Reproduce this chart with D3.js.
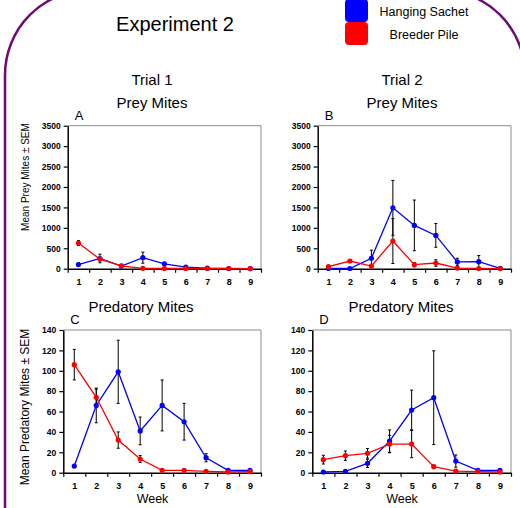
<!DOCTYPE html>
<html>
<head>
<meta charset="utf-8">
<script src="https://cdn.jsdelivr.net/npm/d3@7/dist/d3.min.js"></script>
<style>
  html, body { margin: 0; padding: 0; background: #fff; }
  svg { display: block; font-family: "Liberation Sans", Arial, sans-serif; }
</style>
</head>
<body>
<svg id="chart" width="520" height="508"></svg>
<script>
// Weeks (x categories)
const weeks = [1, 2, 3, 4, 5, 6, 7, 8, 9];

// Trial 1 - prey mites
const preyT1Sachet    = [100, 250, 65, 270, 120, 40, 16, 5, 3];
const preyT1SachetErr = [40, 105, 15, 135, 30, 10, 5, 2, 2];
const preyT1Pile      = [628, 235, 70, 8, 5, 5, 5, 4, 3];
const preyT1PileErr   = [60, 40, 15, 4, 3, 3, 3, 2, 2];

// Trial 2 - prey mites
const preyT2Sachet    = [5, 5, 255, 1490, 1060, 815, 165, 172, 10];
const preyT2SachetErr = [3, 3, 200, 670, 620, 290, 90, 150, 5];
const preyT2Pile      = [49, 188, 65, 677, 98, 139, 16, 5, 3];
const preyT2PileErr   = [30, 20, 15, 550, 50, 80, 10, 3, 2];

// Trial 1 - predatory mites
const predT1Sachet    = [6.5, 66, 99, 41, 66, 50, 14.7, 2.3, 2.3];
const predT1SachetErr = [1, 17, 31, 13.6, 25, 18, 4, 0.5, 0.5];
const predT1Pile      = [106, 74, 32, 13.4, 2.3, 2.3, 1.3, 0.7, 1];
const predT1PileErr   = [15, 8, 8, 3.5, 0.8, 0.8, 0.5, 0.3, 0.3];

// Trial 2 - predatory mites
const predT2Sachet    = [0.7, 1.3, 9.2, 31, 61.5, 73.6, 11.4, 2.3, 2.3];
const predT2SachetErr = [0.3, 0.5, 4, 11, 19.5, 46, 6, 0.5, 0.5];
const predT2Pile      = [12.8, 16.7, 19, 28.1, 28.1, 5.9, 1.6, 1, 0.7];
const predT2PileErr   = [4.3, 4.6, 4.7, 8.5, 13.4, 1.5, 0.5, 0.3, 0.3];

const preyTicks = [0, 500, 1000, 1500, 2000, 2500, 3000, 3500];
const predTicks = [0, 20, 40, 60, 80, 100, 120, 140];

const seriesNames = ['Hanging Sachet', 'Breeder Pile'];
const seriesColors = ['#0000ff', '#ff0000'];

const svg = d3.select('#chart');
const FONT = '"Liberation Sans", Arial, sans-serif';

// Purple rounded frame
svg.append('rect')
  .attr('x', 5).attr('y', -10)
  .attr('width', 520).attr('height', 600)
  .attr('rx', 85).attr('ry', 85)
  .attr('fill', 'none')
  .attr('stroke', '#6e0b74')
  .attr('stroke-width', 2.5);

// Title
svg.append('text')
  .attr('x', 175).attr('y', 31)
  .attr('text-anchor', 'middle')
  .attr('font-size', 20)
  .text('Experiment 2');

// Legend
seriesNames.forEach((name, i) => {
  svg.append('rect')
    .attr('x', 345).attr('y', i * 23 - 1)
    .attr('width', 23).attr('height', 23)
    .attr('rx', 4)
    .attr('fill', seriesColors[i]);
  svg.append('text')
    .attr('x', 424).attr('y', 16 + i * 22.5)
    .attr('text-anchor', 'middle')
    .attr('font-size', 12.5)
    .text(name);
});

// Column headings
[['Trial 1', 152], ['Trial 2', 402]].forEach(([t, x]) => {
  svg.append('text').attr('x', x).attr('y', 85)
    .attr('text-anchor', 'middle').attr('font-size', 15).text(t);
  svg.append('text').attr('x', x).attr('y', 108)
    .attr('text-anchor', 'middle').attr('font-size', 15).text('Prey Mites');
});
[141, 401].forEach(x => {
  svg.append('text').attr('x', x).attr('y', 312)
    .attr('text-anchor', 'middle').attr('font-size', 15).text('Predatory Mites');
});

// Y axis titles
svg.append('text')
  .attr('transform', 'translate(29,177) rotate(-90)')
  .attr('text-anchor', 'middle')
  .attr('font-size', 10)
  .text('Mean Prey Mites ± SEM');
svg.append('text')
  .attr('transform', 'translate(29,407) rotate(-90)')
  .attr('text-anchor', 'middle')
  .attr('font-size', 12)
  .text('Mean Predatory Mites ± SEM');

// Week labels
[152.5, 402].forEach(x => {
  svg.append('text').attr('x', x).attr('y', 503)
    .attr('text-anchor', 'middle').attr('font-size', 12.5).text('Week');
});

const panels = [
  { letter: 'A', x0: 67.7, x1: 261, y0: 125.7, y1: 268.7, max: 3500, ticks: preyTicks,
    series: [[preyT1Sachet, preyT1SachetErr], [preyT1Pile, preyT1PileErr]] },
  { letter: 'B', x0: 317.7, x1: 511, y0: 125.7, y1: 268.7, max: 3500, ticks: preyTicks,
    series: [[preyT2Sachet, preyT2SachetErr], [preyT2Pile, preyT2PileErr]] },
  { letter: 'C', x0: 63.3, x1: 261, y0: 330, y1: 472.7, max: 140, ticks: predTicks,
    series: [[predT1Sachet, predT1SachetErr], [predT1Pile, predT1PileErr]] },
  { letter: 'D', x0: 312.3, x1: 511, y0: 330, y1: 472.7, max: 140, ticks: predTicks,
    series: [[predT2Sachet, predT2SachetErr], [predT2Pile, predT2PileErr]] }
];

panels.forEach(p => {
  const x = d3.scaleLinear().domain([0.5, 9.5]).range([p.x0, p.x1]);
  const y = d3.scaleLinear().domain([0, p.max]).range([p.y1, p.y0]);
  const g = svg.append('g');

  // Plot box (gray top/right)
  g.append('path')
    .attr('d', `M${p.x0},${p.y0}H${p.x1}V${p.y1}`)
    .attr('fill', 'none').attr('stroke', '#8c8c8c').attr('stroke-width', 1);

  // Panel letter
  g.append('text')
    .attr('x', p.x0 + 7)
    .attr('y', p.y0 - 6)
    .attr('font-size', 13)
    .text(p.letter);

  // Y axis
  const yAxis = g.append('g')
    .attr('transform', `translate(${p.x0},0)`)
    .call(d3.axisLeft(y).tickValues(p.ticks).tickSize(4).tickPadding(3)
      .tickSizeOuter(0).tickFormat(d3.format('d')));
  yAxis.selectAll('text').attr('font-size', 8.5).attr('font-weight', 'bold').attr('font-family', FONT);

  // X axis: ticks at category boundaries
  const xAxis = g.append('g')
    .attr('transform', `translate(0,${p.y1})`)
    .call(d3.axisBottom(x).tickValues(d3.range(0.5, 10, 1)).tickSize(4).tickFormat('').tickSizeOuter(0));
  // X labels at categories
  const xLab = g.append('g')
    .attr('transform', `translate(0,${p.y1})`)
    .call(d3.axisBottom(x).tickValues(weeks).tickSize(0).tickPadding(10).tickFormat(d3.format('d')));
  xLab.select('.domain').remove();
  xLab.selectAll('text').attr('font-size', 9).attr('font-weight', 'bold').attr('font-family', FONT);

  [yAxis, xAxis].forEach(a => {
    a.select('.domain').attr('stroke', '#000').attr('stroke-width', 1.5);
    a.selectAll('.tick line').attr('stroke', '#000').attr('stroke-width', 1.2);
  });

  // Error bars
  p.series.forEach(([vals, errs]) => {
    const eb = g.append('g').attr('stroke', '#000').attr('stroke-width', 1);
    weeks.forEach((w, i) => {
      const cx = x(w);
      const top = y(vals[i] + errs[i]);
      const bot = y(Math.max(0, vals[i] - errs[i]));
      eb.append('line').attr('x1', cx).attr('x2', cx).attr('y1', top).attr('y2', bot);
      eb.append('line').attr('x1', cx - 1.5).attr('x2', cx + 1.5).attr('y1', top).attr('y2', top);
      eb.append('line').attr('x1', cx - 1.5).attr('x2', cx + 1.5).attr('y1', bot).attr('y2', bot);
    });
  });

  // Lines and markers (breeder pile drawn over sachet)
  p.series.forEach(([vals], s) => {
    const line = d3.line().x((d, i) => x(weeks[i])).y(d => y(d));
    g.append('path')
      .datum(vals)
      .attr('d', line)
      .attr('fill', 'none')
      .attr('stroke', seriesColors[s])
      .attr('stroke-width', 1.3);
    g.selectAll(null)
      .data(vals)
      .enter().append('circle')
      .attr('cx', (d, i) => x(weeks[i]))
      .attr('cy', d => y(d))
      .attr('r', 2.6)
      .attr('fill', seriesColors[s]);
  });
});
</script>
</body>
</html>
